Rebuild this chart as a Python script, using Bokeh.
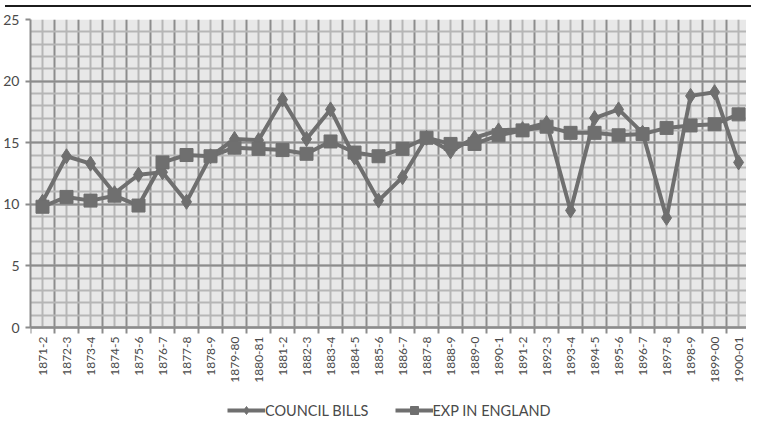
import math
from bokeh.plotting import figure
from bokeh.models import (FixedTicker, Range1d, Legend, LegendItem, Div, ColumnDataSource,
                          BoxAnnotation)
from bokeh.layouts import column
from bokeh.embed import file_html
from bokeh.resources import INLINE

years = ["1871-2", "1872-3", "1873-4", "1874-5", "1875-6", "1876-7", "1877-8", "1878-9",
         "1879-80", "1880-81", "1881-2", "1882-3", "1883-4", "1884-5", "1885-6", "1886-7",
         "1887-8", "1888-9", "1889-0", "1890-1", "1891-2", "1892-3", "1893-4", "1894-5",
         "1895-6", "1896-7", "1897-8", "1898-9", "1899-00", "1900-01"]
council_bills = [10.2, 13.9, 13.3, 10.9, 12.4, 12.6, 10.2, 13.9, 15.3, 15.2,
                 18.5, 15.3, 17.7, 13.8, 10.3, 12.2, 15.4, 14.3, 15.4, 16.0,
                 16.1, 16.6, 9.5, 17.0, 17.7, 15.8, 8.9, 18.8, 19.1, 13.4]
exp_in_england = [9.8, 10.6, 10.3, 10.7, 9.9, 13.4, 14.0, 13.9, 14.6, 14.5,
                  14.4, 14.1, 15.1, 14.2, 13.9, 14.5, 15.4, 14.9, 14.9, 15.6,
                  16.0, 16.3, 15.8, 15.8, 15.6, 15.7, 16.2, 16.4, 16.5, 17.3]
y_major = [0, 5, 10, 15, 20, 25]
Y_MIN, Y_MAX = 0, 25

xs = list(range(len(years)))
src = ColumnDataSource(dict(x=xs, cb=council_bills, exp=exp_in_england))

LINE = "#6f6f6f"
MAJOR = "#8c8c8c"
MINOR = "#b6b6b6"
TXT = "#4a4a4a"

FRAME_H = 401          # plot area + room below it for tick labels and legend
PLOT_H = 308           # pixels used by the 0..25 value span
extra = (FRAME_H - PLOT_H) * (Y_MAX - Y_MIN) / PLOT_H

p = figure(output_backend="svg", toolbar_location=None,
           frame_width=716, frame_height=FRAME_H,
           x_range=Range1d(-0.5, 29.33), y_range=Range1d(Y_MIN - extra, Y_MAX),
           min_border_left=30, min_border_right=0, min_border_top=7, min_border_bottom=0,
           background_fill_color="white", border_fill_color="white")
p.outline_line_color = None

bg = BoxAnnotation(bottom=Y_MIN, top=Y_MAX, fill_color="#e8e8e8", fill_alpha=1,
                   line_color=None, level="image")
p.add_layout(bg)

centers = xs
bounds = [i - 0.5 for i in range(len(years) + 1)]
p.xaxis.fixed_location = Y_MIN
p.xaxis.ticker = FixedTicker(ticks=centers, minor_ticks=bounds)
p.xaxis.major_label_overrides = {i: lab for i, lab in enumerate(years)}
p.xaxis.major_label_orientation = math.pi / 2
p.xaxis.major_tick_line_color = None
p.xaxis.major_tick_out = 0
p.xaxis.major_tick_in = 0
p.xaxis.minor_tick_out = 6
p.xaxis.minor_tick_in = 0
p.xaxis.minor_tick_line_color = MAJOR
p.xaxis.minor_tick_line_width = 2
p.xaxis.axis_line_color = MAJOR
p.xaxis.axis_line_width = 2
p.xaxis.major_label_text_font = "Lato"
p.xaxis.major_label_text_font_size = "12px"
p.xaxis.major_label_text_color = TXT
p.xaxis.major_label_standoff = 3

p.yaxis.bounds = (Y_MIN, Y_MAX)
p.yaxis.ticker = FixedTicker(ticks=y_major, minor_ticks=list(range(0, 26)))
p.yaxis.minor_tick_line_color = None
p.yaxis.major_tick_out = 5
p.yaxis.major_tick_in = 0
p.yaxis.major_tick_line_color = MAJOR
p.yaxis.major_tick_line_width = 2
p.yaxis.axis_line_color = MAJOR
p.yaxis.axis_line_width = 2
p.yaxis.major_label_text_font = "Lato"
p.yaxis.major_label_text_font_size = "14px"
p.yaxis.major_label_text_color = TXT
p.yaxis.major_label_standoff = 6

p.xgrid.ticker = FixedTicker(ticks=centers, minor_ticks=bounds)
p.xgrid.cross_bounds = (Y_MIN, Y_MAX)
p.xgrid.grid_line_color = MINOR
p.xgrid.grid_line_width = 2
p.xgrid.minor_grid_line_color = MAJOR
p.xgrid.minor_grid_line_width = 2
p.ygrid.ticker = FixedTicker(ticks=y_major, minor_ticks=list(range(0, 26)))
p.ygrid.grid_line_color = MAJOR
p.ygrid.grid_line_width = 2
p.ygrid.minor_grid_line_color = MINOR
p.ygrid.minor_grid_line_width = 2

l1 = p.line("x", "cb", source=src, line_color=LINE, line_width=4)
m1 = p.scatter("x", "cb", source=src, marker="diamond", size=15,
               fill_color=LINE, line_color=LINE)
l2 = p.line("x", "exp", source=src, line_color=LINE, line_width=4)
m2 = p.scatter("x", "exp", source=src, marker="square", size=13,
               fill_color=LINE, line_color=LINE)

legend = Legend(items=[LegendItem(label="COUNCIL BILLS", renderers=[l1, m1]),
                       LegendItem(label="EXP IN ENGLAND", renderers=[l2, m2])],
                orientation="horizontal", location=(197, 0),
                label_text_font="Lato", label_text_font_size="14.5px",
                label_text_color=TXT, glyph_width=38, glyph_height=20,
                spacing=26, padding=0, margin=0, label_standoff=0,
                border_line_color=None, background_fill_alpha=0)
p.add_layout(legend, "center")

rule = Div(text="", width=746, height=2,
           styles={"border-top": "2px solid #1c1c1c", "box-sizing": "border-box"})
layout = column(rule, p, spacing=0)

open("out.html", "w").write(file_html(layout, INLINE))
